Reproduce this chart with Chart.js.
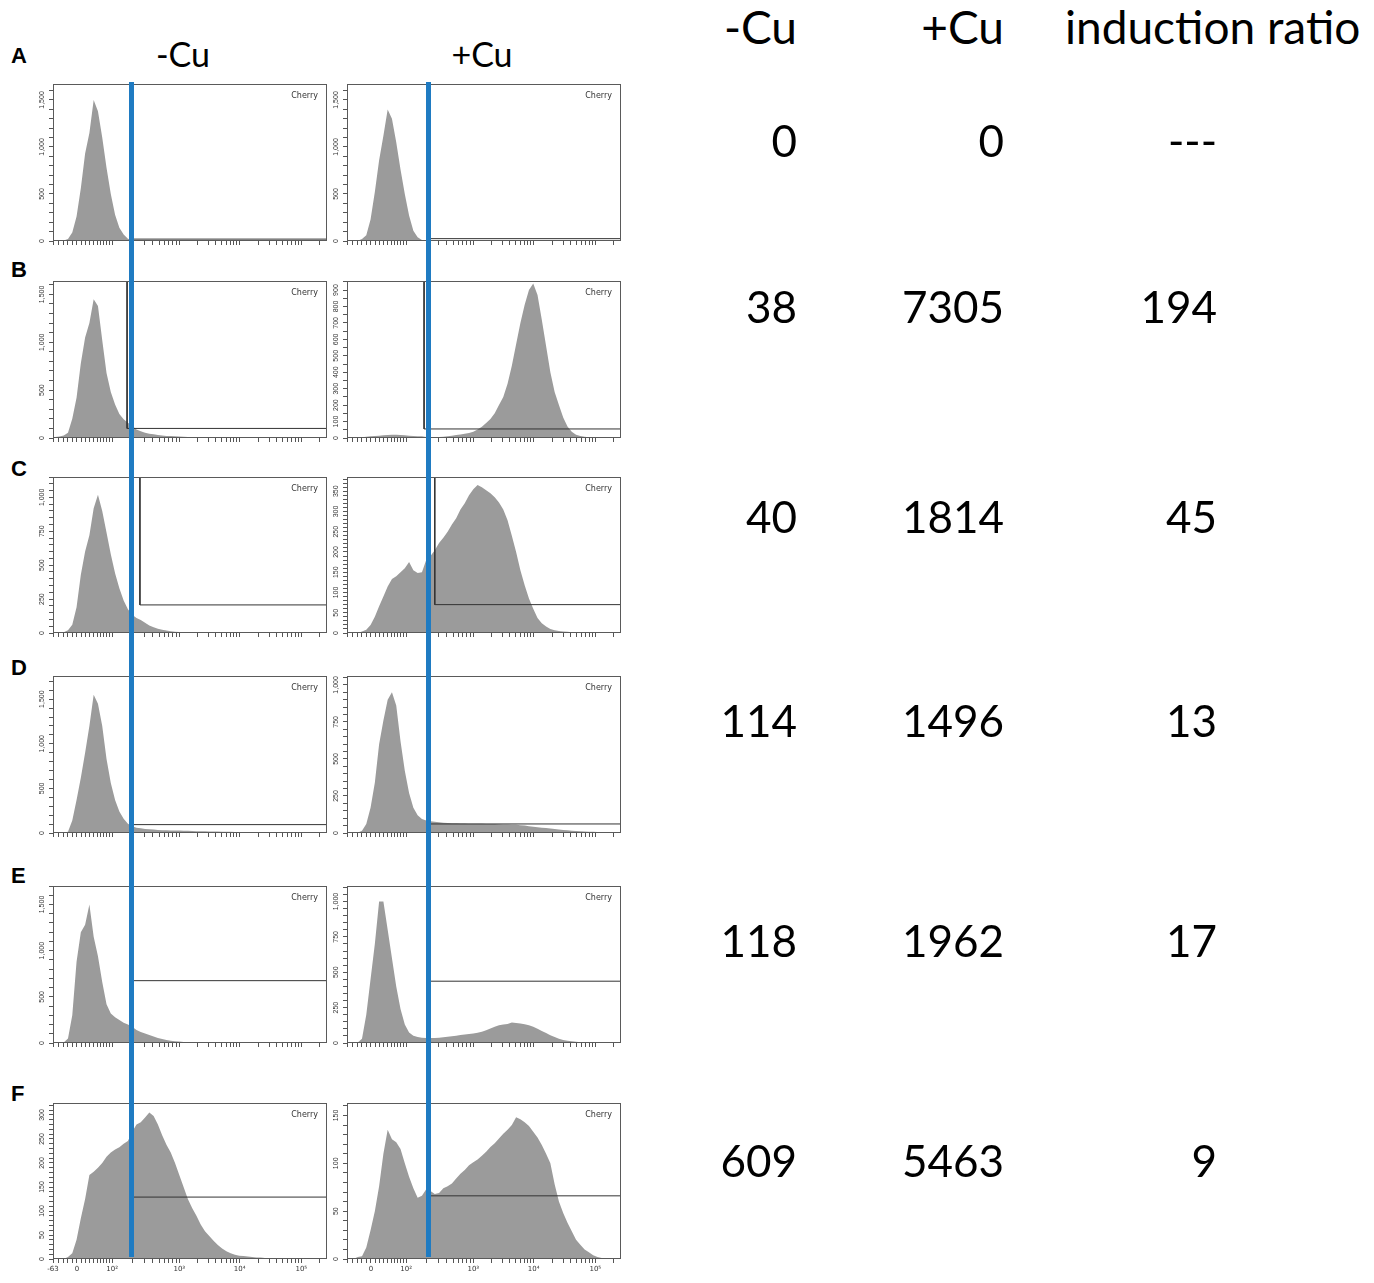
<!DOCTYPE html>
<html>
<head>
<meta charset="utf-8">
<script src="https://cdn.jsdelivr.net/npm/chart.js@4.4.1/dist/chart.umd.min.js"></script>
<style>
body{margin:0;background:#fff}
#page{position:relative;width:1374px;height:1283px;overflow:hidden;background:#fff;font-family:Lato,"Open Sans",sans-serif;color:#000}
.cv{position:absolute}
.txt{position:absolute;white-space:nowrap}
.blue{position:absolute;background:#1f7bc2;width:5px}
</style>
</head>
<body>
<div id="page"></div>
<script>
// histogram counts, 64 bins across the biex axis (bin i covers channel i..i+1)
var aMinus = [0,0,5,20,90,260,560,930,1150,1500,1380,1100,780,500,280,140,70,25,8,3,2,2,1,1,1,1,1,1,1,1];
var aPlus  = [0,0,3,20,60,230,520,860,1120,1400,1300,1050,760,500,270,110,40,10,3,1];
var bMinus = [10,15,25,55,200,420,780,1050,1200,1450,1380,1020,680,480,350,250,195,160,125,90,70,55,45,38,32,27,22,20,17,15,13,11,10,8,7,6,5,5,4,4,3,3,3,2,2,2,1,1,1,1,1,1,1,1,1,1];
var bPlus  = [0,0,2,5,8,10,12,14,16,18,20,20,18,16,14,12,10,10,6,5,5,6,8,10,14,18,22,26,30,38,52,68,92,115,150,200,250,330,440,570,700,810,900,940,870,720,560,400,280,200,125,70,38,20,12,8,5,3,2,1];
var cMinus = [0,0,5,20,60,190,430,600,720,920,1020,900,740,580,440,330,240,175,135,110,95,75,55,42,32,24,18,13,10,8,6,5,4,4,3,3,2,2,2,2,2,2,2,2,2,2,1,1,1,1];
var cPlus  = [0,0,0,4,8,20,40,66,90,115,133,140,150,160,175,155,148,150,180,190,204,222,235,250,268,283,305,320,340,355,365,360,352,345,335,322,305,278,240,200,155,118,85,60,37,24,16,10,7,5,4,3,2,2,1,1,1];
var dMinus = [0,0,3,15,140,370,620,900,1200,1550,1450,1200,830,560,370,240,160,105,75,60,52,46,41,38,35,32,30,29,28,27,25,24,22,21,20,19,18,17,16,15,14,13,12,11,10,9,8,8,7,7,6,6,5,5,5,4,4,3,3,3,2,2,2,2];
var dPlus  = [0,0,2,15,60,170,340,600,760,900,950,860,620,420,270,170,120,95,85,80,76,72,70,68,66,65,64,64,63,63,62,62,61,60,60,59,58,57,56,55,53,50,46,42,39,36,33,30,27,24,21,18,16,14,12,10,9,8,7,6,5,4,3,2];
var eMinus = [0,0,5,50,300,880,1200,1280,1500,1150,940,660,420,320,280,248,220,200,175,140,118,102,86,70,55,42,32,25,19,15,12,10,8,7,6,5,4,4,3,3,3,2,2,2,2,2,1,1,1,1];
var ePlus  = [0,0,3,30,200,450,700,1000,1000,800,600,400,240,130,75,52,42,37,35,35,36,37,40,44,48,52,56,60,64,68,72,80,90,102,115,125,130,135,145,142,138,132,125,115,100,85,70,55,42,30,22,16,12,9,6,4,3,2,1,1];
var fMinus = [0,0,0,4,12,40,85,125,175,182,190,200,213,222,228,233,240,246,265,280,285,295,305,298,280,258,238,222,200,175,150,125,106,90,72,58,48,38,29,22,16,12,9,7,6,5,4,3,3,2,2,1,1,1,1];
var fPlus  = [0,0,2,3,12,30,50,76,110,135,125,122,115,100,86,74,64,66,73,71,68,69,74,76,79,84,89,93,98,101,104,108,112,117,121,126,131,135,140,148,146,143,139,133,127,119,110,100,78,60,48,38,29,20,15,10,7,4,2,1,1,1];

var histMinus = [aMinus, bMinus, cMinus, dMinus, eMinus, fMinus];
var histPlus  = [aPlus, bPlus, cPlus, dPlus, ePlus, fPlus];

// y axis ranges and tick steps
var yMaxMinus   = [1670, 1640, 1150, 1760, 1700, 325];
var yMaxPlus    = [1670, 955, 385, 1060, 1110, 163];
var yMajorMinus = [500, 500, 250, 500, 500, 50];
var yMinorMinus = [100, 100, 50, 100, 100, 10];
var yMajorPlus  = [500, 100, 50, 250, 250, 50];
var yMinorPlus  = [100, 50, 10, 50, 50, 10];

// gates: channel of the vertical edge, count level of the horizontal edge
var gateXMinus     = [18.3, 17.3, 20.3, 18.5, 18.5, 18.6];
var gateLevelMinus = [20, 100, 207, 94, 675, 129];
var gateXPlus      = [18.8, 18.0, 20.5, 19.0, 19.0, 19.2];
var gateLevelPlus  = [25, 55, 70, 61, 437, 66];
var blueXMinus = 18.45, blueXPlus = 18.92;

// x axis ticks (biex display channels)
var xMajorPos    = [0, 5.6, 13.8, 29.5, 43.6, 58.0];
var xMajorLabels = ['-63', '0', '10²', '10³', '10⁴', '10⁵'];
var xLowMinor    = [1.2, 2.4, 3.5, 4.6, 6.7, 7.7, 8.6, 9.5, 10.3, 11.1, 11.8, 12.5, 13.2];

// table
var rowLetters     = ['A', 'B', 'C', 'D', 'E', 'F'];
var cuMinus        = ['0', '38', '40', '114', '118', '609'];
var cuPlus         = ['0', '7305', '1814', '1496', '1962', '5463'];
var inductionRatio = ['---', '194', '45', '13', '17', '9'];

var page = document.getElementById('page');
var frameTops = [84, 281, 477, 676, 886, 1103];
var frameHeights = [157, 157, 156, 157, 157, 156];
var colLefts = [53, 347];
var frameW = 274, yAxisW = 26, padTop = 2, padRight = 3;

var xMinorPos = xLowMinor.slice();
for (var d = 2; d < 6; d++){
	var start = xMajorPos[d];
	var width = d < 5 ? xMajorPos[d+1] - start : 14.4;
	for (var k = 2; k <= 9; k++){
		var p = start + Math.log10(k) * width;
		if (p < 64) xMinorPos.push(p);
	}
}
var xAllTicks = xMajorPos.concat(xMinorPos).sort(function(a, b){ return a - b; });

function fmt(v){
	return v.toLocaleString('en-US');
}

var framePlugin = {
	id: 'frame',
	afterDatasetsDraw: function(chart, args, opts){
		var a = chart.chartArea, ctx = chart.ctx;
		ctx.save();
		ctx.strokeStyle = '#5a5a5a';
		ctx.lineWidth = 1;
		ctx.strokeRect(a.left + 0.5, a.top + 0.5, a.right - a.left - 1, a.bottom - a.top - 1);
		ctx.fillStyle = '#333';
		ctx.font = '8px "DejaVu Sans"';
		ctx.textAlign = 'right';
		ctx.textBaseline = 'middle';
		ctx.fillText('Cherry', a.right - 9, a.top + 12);
		//rotated y labels
		var ys = chart.scales.y;
		ctx.font = '7px "Liberation Sans"';
		ctx.textAlign = 'center';
		for (var v = 0; v <= opts.max; v += opts.major){
			var py = ys.getPixelForValue(v);
			ctx.save();
			ctx.translate(a.left - 11, py);
			ctx.rotate(-Math.PI / 2);
			ctx.fillText(fmt(v), 0, 0);
			ctx.restore();
		}
		ctx.restore();
	}
};

function makeHist(left, top, h, hist, yMax, major, minor, gateX, gateLevel, xLabels, showNeg){
	var xh = xLabels ? 22 : 6;
	var W = yAxisW + frameW + padRight, H = padTop + h + xh;
	var cv = document.createElement('canvas');
	cv.className = 'cv';
	cv.width = W; cv.height = H;
	cv.style.width = W + 'px'; cv.style.height = H + 'px';
	cv.style.left = (left - yAxisW) + 'px';
	cv.style.top = (top - padTop) + 'px';
	page.appendChild(cv);

	//outline through bin centres
	var pts = [{x: 0, y: 0}];
	hist.forEach(function(v, i){ pts.push({x: i + 0.5, y: v}); });
	pts.push({x: hist.length + 0.5, y: 0});
	var gatePts = [{x: gateX, y: yMax}, {x: gateX, y: gateLevel}, {x: 64, y: gateLevel}];

	var yTicks = [];
	for (var v = 0; v <= yMax; v += minor) yTicks.push({value: v});

	var chart = new Chart(cv.getContext('2d'), {
		type: 'line',
		data: {
			datasets: [{
				data: gatePts,
				borderColor: '#333',
				borderWidth: 1,
				pointRadius: 0,
				fill: false
			}, {
				data: pts,
				borderWidth: 0,
				pointRadius: 0,
				tension: 0,
				backgroundColor: '#9b9b9b',
				fill: 'origin'
			}]
		},
		options: {
			responsive: false,
			animation: false,
			events: [],
			layout: {padding: {top: padTop, right: padRight, left: 0, bottom: 0}},
			plugins: {
				legend: {display: false},
				tooltip: {enabled: false},
				frame: {max: yMax, major: major}
			},
			scales: {
				x: {
					type: 'linear', min: 0, max: 64,
					afterBuildTicks: function(s){ s.ticks = xAllTicks.map(function(p){ return {value: p}; }); },
					afterFit: function(s){ s.height = xh; },
					grid: {display: true, drawOnChartArea: false, drawTicks: true, tickLength: 4, tickColor: '#555', color: '#555'},
					border: {display: false},
					ticks: {
						display: xLabels,
						autoSkip: false, maxRotation: 0, minRotation: 0, padding: 2,
						color: '#333', font: {size: 7, family: 'DejaVu Sans'},
						callback: function(value){
							var i = xMajorPos.indexOf(value);
							if (i === 0 && !showNeg) return '';
							return i >= 0 ? xMajorLabels[i] : '';
						}
					}
				},
				y: {
					min: 0, max: yMax,
					afterBuildTicks: function(s){ s.ticks = yTicks; },
					afterFit: function(s){ s.width = yAxisW; },
					grid: {display: true, drawOnChartArea: false, drawTicks: true, tickLength: 4, tickColor: '#555', color: '#555'},
					border: {display: false},
					ticks: {display: false, autoSkip: false}
				}
			}
		},
		plugins: [framePlugin]
	});
	return {chart: chart, canvas: cv};
}

var first = [];
for (var r = 0; r < 6; r++){
	var last = r === 5;
	var m = makeHist(colLefts[0], frameTops[r], frameHeights[r], histMinus[r], yMaxMinus[r], yMajorMinus[r], yMinorMinus[r], gateXMinus[r], gateLevelMinus[r], last, true);
	var p = makeHist(colLefts[1], frameTops[r], frameHeights[r], histPlus[r], yMaxPlus[r], yMajorPlus[r], yMinorPlus[r], gateXPlus[r], gateLevelPlus[r], last, false);
	if (r === 0) first = [m, p];
}

// blue threshold lines, placed through the first row's x scales
[[first[0], blueXMinus], [first[1], blueXPlus]].forEach(function(pair){
	var h = pair[0], px = h.chart.scales.x.getPixelForValue(pair[1]) + h.canvas.offsetLeft;
	var b = document.createElement('div');
	b.className = 'blue';
	b.style.left = (px - 2.5) + 'px';
	b.style.top = '82px';
	b.style.height = '1175px';
	page.appendChild(b);
});

function addText(txt, x, cy, size, align, extra){
	var d = document.createElement('div');
	d.className = 'txt';
	d.textContent = txt;
	d.style.fontSize = size + 'px';
	d.style.lineHeight = size + 'px';
	d.style.top = (cy - size * 0.53) + 'px';
	if (align === 'right'){
		d.style.left = (x - 400) + 'px'; d.style.width = '400px'; d.style.textAlign = 'right';
	}else if (align === 'center'){
		d.style.left = (x - 200) + 'px'; d.style.width = '400px'; d.style.textAlign = 'center';
	}else{
		d.style.left = x + 'px';
	}
	if (extra) for (var k in extra) d.style[k] = extra[k];
	page.appendChild(d);
}

var letterY = [57, 271, 470, 669, 877, 1095];
var rowY = [141, 307, 517, 721, 941, 1161];
for (var i = 0; i < 6; i++){
	addText(rowLetters[i], 11, letterY[i], 22, 'left', {fontFamily: '"Liberation Sans", Arial, sans-serif', fontWeight: 'bold'});
	addText(cuMinus[i], 797, rowY[i], 44, 'right');
	addText(cuPlus[i], 1004, rowY[i], 44, 'right');
	addText(inductionRatio[i], 1217, rowY[i], 44, 'right');
}
addText('-Cu', 183, 55, 34, 'center');
addText('+Cu', 482, 55, 34, 'center');
addText('-Cu', 797, 28, 46, 'right');
addText('+Cu', 1004, 28, 46, 'right');
addText('induction ratio', 1065, 28, 46, 'left');
</script>
</body>
</html>
